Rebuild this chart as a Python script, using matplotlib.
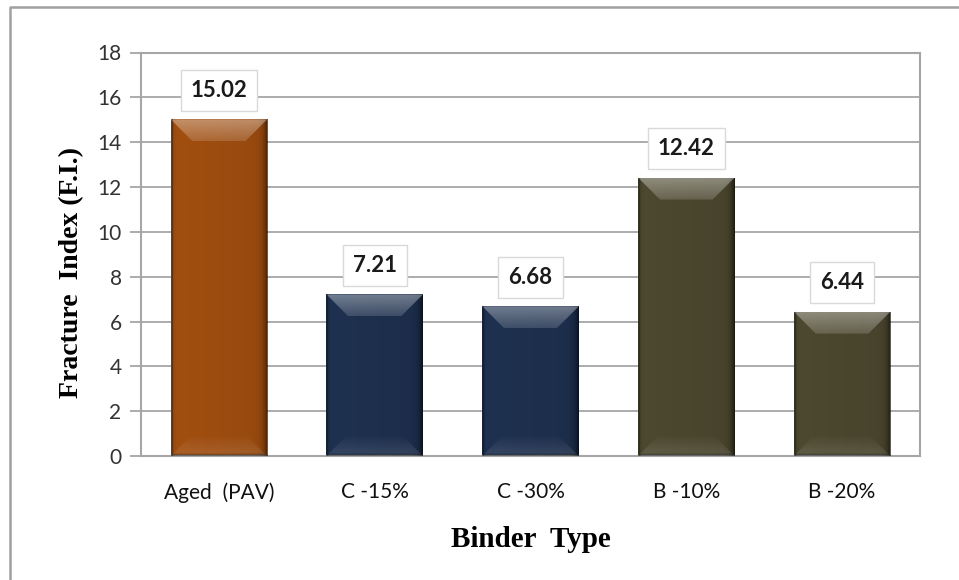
import numpy as np
import matplotlib
matplotlib.use("Agg")
import matplotlib.pyplot as plt
from matplotlib.patches import Polygon
from matplotlib.lines import Line2D

# Fracture index per binder
binders = ['Aged  (PAV)', 'C -15%', 'C -30%', 'B -10%', 'B -20%']
fracture_index = [15.02, 7.21, 6.68, 12.42, 6.44]
bar_colors = ['#A24F10', '#1E3150', '#1E3150', '#4D4930', '#4D4930']

SANS = ['Lato', 'DejaVu Sans']
SERIF = ['Liberation Serif', 'DejaVu Serif']
GRID = '#a6a6a6'

fig = plt.figure(figsize=(9.59, 5.80), dpi=100)
ax = fig.add_axes([141 / 959, 124 / 580, 779 / 959, 403.5 / 580])

x = np.arange(len(binders))
bars = ax.bar(x, fracture_index, width=0.62, color=bar_colors, zorder=2)

ax.set_xlim(-0.5, len(binders) - 0.5)
ax.set_ylim(0, 18)
ax.set_yticks(np.arange(0, 19, 2))
ax.set_xticks(x)
ax.set_xticklabels(binders, family=SANS, fontsize=15, color='#111111')
for lab in ax.get_yticklabels():
    lab.set_family(SANS)
    lab.set_fontsize(15)
    lab.set_color('#333333')
ax.tick_params(axis='x', length=0, pad=19)
ax.tick_params(axis='y', length=8, width=1.3, color=GRID, pad=6, direction='out')
ax.grid(axis='y', color=GRID, linewidth=1.3, zorder=0)
ax.set_axisbelow(True)
for s in ax.spines.values():
    s.set_color(GRID)
    s.set_linewidth(1.5)

ax.set_xlabel('Binder  Type', family=SERIF, fontweight='bold', fontsize=21)
ax.set_ylabel('Fracture  Index (F.I.)', family=SERIF, fontweight='bold', fontsize=20)
ax.xaxis.set_label_coords(0.5, -0.173)
ax.yaxis.set_label_coords(-0.073, 0.455)

# pixel -> data conversion for the bevel sizes
px_x = ax.transData.transform((1, 0))[0] - ax.transData.transform((0, 0))[0]
px_y = ax.transData.transform((0, 1))[1] - ax.transData.transform((0, 0))[1]


def shade(ax, extent, alpha_grid, rgb, clip):
    img = np.zeros(alpha_grid.shape + (4,))
    img[..., :3] = rgb
    img[..., 3] = alpha_grid
    im = ax.imshow(img, extent=extent, aspect='auto', origin='upper',
                   interpolation='bilinear', zorder=3)
    im.set_clip_path(clip)


for bar in bars:
    x0, w, h = bar.get_x(), bar.get_width(), bar.get_height()
    x1 = x0 + w
    bx = 22 / px_x
    by = 22 / px_y
    ex = 1.0 / px_x

    # darker sides, strong on the right edge
    t = np.linspace(0, 1, 200)
    side = 0.25 * np.exp(-t / 0.02) + 0.6 * np.exp(-(1 - t) / 0.035) + 0.08 * t
    shade(ax, (x0, x1, 0, h), np.tile(side, (2, 1)), (0, 0, 0), bar)

    # top bevel, lighter at the top
    top = Polygon([(x0, h), (x1, h), (x1 - bx, h - by), (x0 + bx, h - by)],
                  closed=True, transform=ax.transData, facecolor='none', edgecolor='none')
    ax.add_patch(top)
    v = np.linspace(0.38, 0.15, 100)[:, None] * np.ones((1, 2))
    shade(ax, (x0, x1, h - by, h), v, (1, 1, 1), top)

    # bottom bevel, slightly lighter with a dark rim
    bot = Polygon([(x0, 0), (x1, 0), (x1 - bx, by), (x0 + bx, by)],
                  closed=True, transform=ax.transData, facecolor='none', edgecolor='none')
    ax.add_patch(bot)
    vb = np.linspace(0.0, 0.12, 100)[:, None] * np.ones((1, 2))
    shade(ax, (x0, x1, 0, by), vb, (1, 1, 1), bot)
    vd = np.concatenate([np.zeros(85), np.linspace(0, 0.45, 15)])[:, None] * np.ones((1, 2))
    shade(ax, (x0, x1, 0, by), vd, (0, 0, 0), bot)

    ax.plot([x0 + ex, x0 + ex], [0, h], color='black', alpha=0.25, lw=1, zorder=4)

ax.set_xlim(-0.5, len(binders) - 0.5)
ax.set_ylim(0, 18)

# value labels in boxes
for bar, val in zip(bars, fracture_index):
    ax.annotate(f'{val:.2f}', (bar.get_x() + bar.get_width() / 2, val),
                xytext=(0, 21), textcoords='offset points', ha='center', va='center',
                family=SANS, fontweight='bold', fontsize=16, color='#1a1a1a', zorder=6,
                bbox=dict(boxstyle='square,pad=0.45', fc='white', ec='#d9d9d9', lw=1))

# chart frame
fig.add_artist(Line2D([10 / 959, 10 / 959, 1], [0, 1 - 7 / 580, 1 - 7 / 580],
                      transform=fig.transFigure, color='#a0a0a0', lw=1.8))

fig.savefig('out.png', dpi=100)
